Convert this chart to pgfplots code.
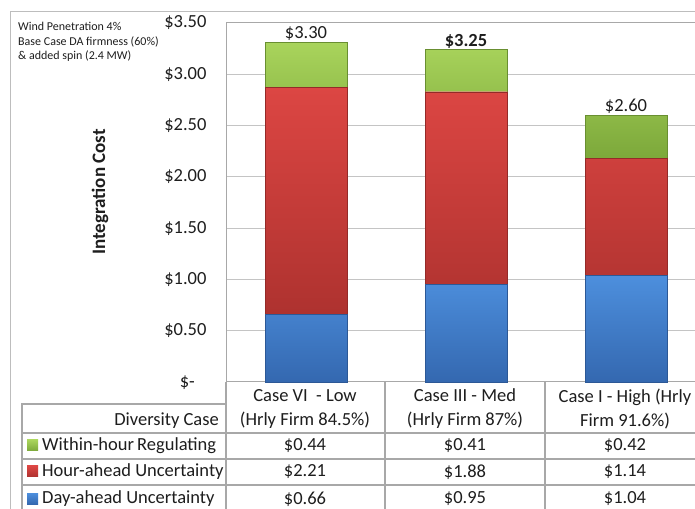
\documentclass[border=0pt]{standalone}
\usepackage{fontspec}
\setmainfont{Carlito}
\usepackage{pgfplots}
\pgfplotsset{compat=1.18}
\definecolor{gridc}{HTML}{C4C4C4}
\definecolor{tabc}{HTML}{A8A8A8}
\definecolor{framec}{HTML}{BDBDBD}
\definecolor{txt}{HTML}{1E1E1E}
\definecolor{blueT}{HTML}{4D8FDD}
\definecolor{blueB}{HTML}{3468B0}
\definecolor{redT}{HTML}{DC4643}
\definecolor{redB}{HTML}{AE322F}
\definecolor{greenT}{HTML}{A9D45C}
\definecolor{greenB}{HTML}{7CA83A}
\newcommand{\fs}{\fontsize{18.5}{24}\selectfont}
\begin{document}
\begin{tikzpicture}[x=1pt,y=1pt]
\useasboundingbox (0,0) rectangle (695,508);
\clip (0,0) rectangle (695,508);
\fill[white] (0,0) rectangle (695,508);
% outer chart frame
\draw[framec, line width=1pt] (10,-5) -- (10,496) -- (705,496);
\begin{axis}[
  at={(226pt,126pt)}, anchor=south west,
  scale only axis, width=480pt, height=359pt,
  ybar stacked, bar width=82pt,
  xmin=-0.5, xmax=2.5, ymin=0, ymax=3.5,
  xtick=\empty,
  ytick={0,0.5,1,1.5,2,2.5,3,3.5},
  yticklabels={{},\$0.50,\$1.00,\$1.50,\$2.00,\$2.50,\$3.00,\$3.50},
  yticklabel style={font=\fs, text=txt, xshift=-16pt},
  major tick length=0pt,
  ymajorgrids, grid style={gridc, line width=1pt},
  axis line style={tabc, line width=1pt},
  clip=false,
]
\addplot[draw=blueB!85!black, line width=0.4pt, top color=blueT, bottom color=blueB]
  coordinates {(0,0.66) (1,0.95) (2,1.04)};
\addplot[draw=redB!85!black, line width=0.4pt, top color=redT, bottom color=redB]
  coordinates {(0,2.21) (1,1.88) (2,1.14)};
\addplot[draw=greenB!85!black, line width=0.4pt, top color=greenT, bottom color=greenB]
  coordinates {(0,0.44) (1,0.41) (2,0.42)};
\node[font=\fs, text=txt, anchor=south, inner sep=1.5pt] at (axis cs:0,3.31) {\$3.30};
\node[font=\fs\bfseries, text=txt, anchor=south, inner sep=0.5pt] at (axis cs:1,3.24) {\$3.25};
\node[font=\fs, text=txt, anchor=south, inner sep=1.5pt] at (axis cs:2,2.60) {\$2.60};
\node[font=\fs, text=txt, anchor=east, inner sep=0pt, xshift=-31pt, yshift=-1pt] at (axis cs:-0.5,0) {\$-};
\end{axis}
% y label
\node[rotate=90, font=\fontsize{19}{22}\selectfont\bfseries, text=txt] at (100,316) {Integration Cost};
% note text
\node[anchor=north west, align=left, font=\fontsize{12}{14.5}\selectfont, text=txt, inner sep=0pt] at (18,486)
  {Wind Penetration 4\%\\Base Case DA firmness (60\%)\\\& added spin (2.4 MW)};
% table lines
\begin{scope}[tabc, line width=1.2pt]
\draw (22,-5) -- (22,104) -- (226,104);
\draw (226,126) -- (226,-5);
\draw (385,126) -- (385,-5);
\draw (545,126) -- (545,-5);
\draw (22,75) -- (700,75);
\draw (22,49) -- (700,49);
\draw (22,23) -- (700,23);
\end{scope}
% header texts
\begin{scope}[font=\fs, text=txt]
\node[align=center] at (305,99) {Case VI \ - Low\\(Hrly Firm 84.5\%)};
\node[align=center] at (465,99) {Case III - Med\\(Hrly Firm 87\%)};
\node[align=center] at (625,99) {Case I - High (Hrly\\Firm 91.6\%)};
\node[anchor=east, inner sep=0pt] at (219,87) {Diversity Case};
\node[anchor=west, inner sep=0pt] at (42,62) {Within-hour\,Regulating};
\node[anchor=west, inner sep=0pt] at (42,36) {Hour-ahead Uncertainty};
\node[anchor=west, inner sep=0pt] at (42,9) {Day-ahead Uncertainty};
\node at (305,62) {\$0.44};
\node at (465,62) {\$0.41};
\node at (625,62) {\$0.42};
\node at (305,36) {\$2.21};
\node at (465,36) {\$1.88};
\node at (625,36) {\$1.14};
\node at (305,9) {\$0.66};
\node at (465,9) {\$0.95};
\node at (625,9) {\$1.04};
\end{scope}
% legend keys
\shade[top color=greenT, bottom color=greenB] (27,57) rectangle (38,68);
\shade[top color=redT, bottom color=redB] (27,31) rectangle (38,42);
\shade[top color=blueT, bottom color=blueB] (27,4) rectangle (38,15);
\end{tikzpicture}
\end{document}
